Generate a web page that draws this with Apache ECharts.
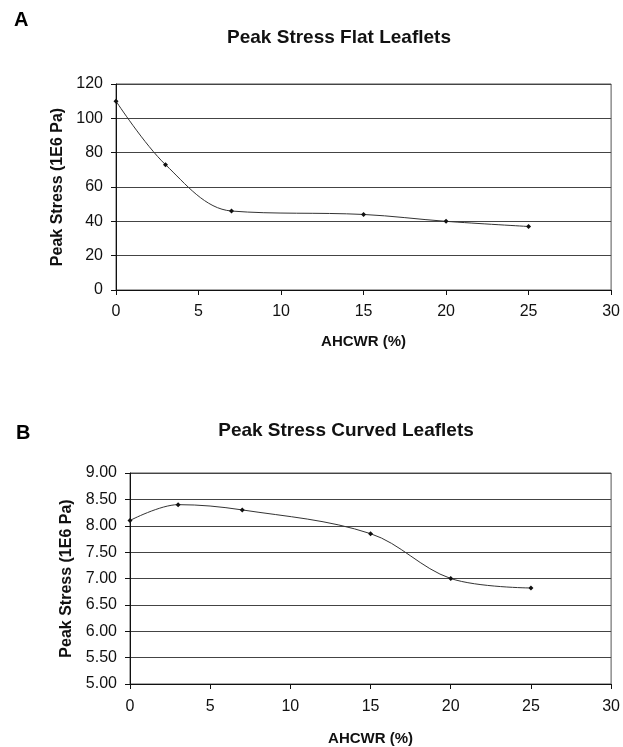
<!DOCTYPE html>
<html>
<head>
<meta charset="utf-8">
<script src="https://cdn.jsdelivr.net/npm/echarts@6/dist/echarts.min.js"></script>
<style>
  html, body { margin: 0; padding: 0; background: #fff; }
  #chart { width: 623px; height: 747px; }
</style>
</head>
<body>
<div id="chart"></div>
<script>
// AHCWR (%) values shared by both panels
const ahcwr = [0, 3, 7, 15, 20, 25];
// panel A: flat leaflets, peak stress (1E6 Pa)
const flatStress = [110, 73, 46, 44, 40, 37];
// panel B: curved leaflets, peak stress (1E6 Pa)
const curvedStress = [8.1, 8.4, 8.3, 7.85, 7.0, 6.82];

const font = "Liberation Sans, Arial, sans-serif";

function pairs(xs, ys) {
  return xs.map((x, i) => [x, ys[i]]);
}

function xAxisOf(gridIndex, nameGap, margin) {
  return {
    gridIndex,
    type: "value",
    min: 0,
    max: 30,
    interval: 5,
    name: "AHCWR (%)",
    nameLocation: "middle",
    nameGap,
    nameTextStyle: { fontFamily: font, fontWeight: "bold", fontSize: 15, color: "#111" },
    axisLine: { lineStyle: { color: "#111", width: 1 } },
    axisTick: { show: true, length: 5, lineStyle: { color: "#111" } },
    axisLabel: { fontFamily: font, fontSize: 16, color: "#111", margin },
    splitLine: { show: false },
  };
}

function yAxisOf(gridIndex, min, max, interval, nameGap, fmt) {
  return {
    gridIndex,
    type: "value",
    min,
    max,
    interval,
    name: "Peak Stress (1E6 Pa)",
    nameLocation: "middle",
    nameGap,
    nameTextStyle: { fontFamily: font, fontWeight: "bold", fontSize: 16, color: "#111" },
    axisLine: { show: true, lineStyle: { color: "#111", width: 1 } },
    axisTick: { show: true, length: 5, lineStyle: { color: "#111" } },
    axisLabel: { fontFamily: font, fontSize: 16, color: "#111", margin: 13, formatter: fmt },
    splitLine: { show: true, lineStyle: { color: "#444", width: 1 } },
  };
}

function lineSeries(xi, data) {
  return {
    type: "line",
    xAxisIndex: xi,
    yAxisIndex: xi,
    data,
    smooth: 0.35,
    symbol: "diamond",
    symbolSize: 5,
    itemStyle: { color: "#111" },
    lineStyle: { color: "#333", width: 1 },
  };
}

const panelLetter = { fontFamily: font, fontSize: 20, fontWeight: "bolder", color: "#000" };
const panelTitle = { fontFamily: font, fontSize: 19, fontWeight: "bold", color: "#111" };

const chart = echarts.init(document.getElementById("chart"));
chart.setOption({
  backgroundColor: "#fff",
  animation: false,
  title: [
    { text: "A", left: 9, top: 5, textStyle: panelLetter },
    { text: "Peak Stress Flat Leaflets", left: 334, top: 23, textAlign: "center", textStyle: panelTitle },
    { text: "B", left: 11, top: 418, textStyle: panelLetter },
    { text: "Peak Stress Curved Leaflets", left: 341, top: 416, textAlign: "center", textStyle: panelTitle },
  ],
  grid: [
    { left: 116, top: 84, width: 496, height: 206, show: true, borderColor: "#555", borderWidth: 1 },
    { left: 130, top: 473, width: 487, height: 211, show: true, borderColor: "#555", borderWidth: 1 },
  ],
  xAxis: [xAxisOf(0, 44, 14), xAxisOf(1, 47, 15)],
  yAxis: [
    yAxisOf(0, 0, 120, 20, 47),
    yAxisOf(1, 5, 9, 0.5, 54, (v) => v.toFixed(2)),
  ],
  series: [
    lineSeries(0, pairs(ahcwr, flatStress)),
    lineSeries(1, pairs(ahcwr, curvedStress)),
  ],
});
</script>
</body>
</html>
